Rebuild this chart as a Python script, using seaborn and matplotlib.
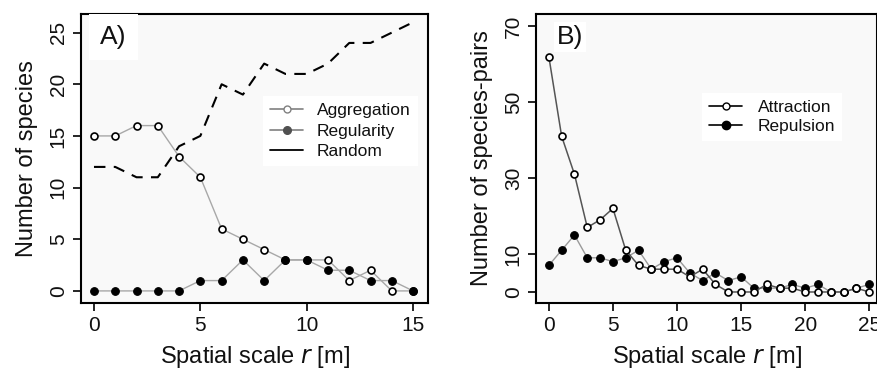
import numpy as np
import pandas as pd
import matplotlib
matplotlib.use("Agg")
import matplotlib.pyplot as plt
import seaborn as sns
from matplotlib.lines import Line2D

# Panel A: number of species per pattern type
scale_a = list(range(16))
aggregation = [15, 15, 16, 16, 13, 11, 6, 5, 4, 3, 3, 3, 1, 2, 0, 0]
regularity = [0, 0, 0, 0, 0, 1, 1, 3, 1, 3, 3, 2, 2, 1, 1, 0]
random_ = [12, 12, 11, 11, 14, 15, 20, 19, 22, 21, 21, 22, 24, 24, 25, 26]

# Panel B: number of species pairs
scale_b = list(range(26))
attraction = [62, 41, 31, 17, 19, 22, 11, 7, 6, 6, 6, 4, 6, 2, 0, 0,
              0, 2, 1, 1, 0, 0, 0, 0, 1, 0]
repulsion = [7, 11, 15, 9, 9, 8, 9, 11, 6, 8, 9, 5, 3, 5, 3, 4,
             1, 1, 1, 2, 1, 2, 0, 0, 1, 2]

yticks_a = [0, 5, 10, 15, 20, 25]
yticks_b = [0, 10, 30, 50, 70]
xticks_a = [0, 5, 10, 15]
xticks_b = [0, 5, 10, 15, 20, 25]

sns.set_theme(style="ticks")
plt.rcParams["font.family"] = ["Liberation Sans", "DejaVu Sans"]

df_a = pd.DataFrame({"r": scale_a, "Aggregation": aggregation,
                     "Regularity": regularity, "Random": random_})
df_b = pd.DataFrame({"r": scale_b, "Attraction": attraction,
                     "Repulsion": repulsion})

fig = plt.figure(figsize=(8.78, 3.70), dpi=100)
ax1 = fig.add_axes([81 / 878, 67 / 370, 347 / 878, 289 / 370])
ax2 = fig.add_axes([536 / 878, 67 / 370, 341 / 878, 289 / 370])

open_kw = dict(marker="o", markersize=5, markerfacecolor="white",
               markeredgecolor="black", markeredgewidth=1.2)
fill_kw = dict(marker="o", markersize=5.5, markerfacecolor="black",
               markeredgecolor="black", markeredgewidth=0.8)

# --- Panel A ---
sns.lineplot(data=df_a, x="r", y="Random", ax=ax1, color="black",
             linestyle=(0, (5.5, 4)), linewidth=1.5)
sns.lineplot(data=df_a, x="r", y="Aggregation", ax=ax1, color="#a8a8a8",
             linewidth=1.0, **open_kw)
sns.lineplot(data=df_a, x="r", y="Regularity", ax=ax1, color="#a8a8a8",
             linewidth=1.0, **fill_kw)

ax1.set_xlim(-0.61, 15.7)
ax1.set_ylim(-1.17, 26.8)
ax1.set_xticks(xticks_a)
ax1.set_yticks(yticks_a)
ax1.set_ylabel("Number of species", fontsize=17, labelpad=8)

hand_a = [
    Line2D([], [], color="#808080", lw=1.2, marker="o", markersize=5,
           markerfacecolor="white", markeredgecolor="#808080"),
    Line2D([], [], color="#808080", lw=1.2, marker="o", markersize=5.5,
           markerfacecolor="#505050", markeredgecolor="#505050"),
    Line2D([], [], color="black", lw=1.3),
]
leg = ax1.legend(hand_a, ["Aggregation", "Regularity", "Random"],
                 loc="upper left", bbox_to_anchor=(0.525, 0.715),
                 borderaxespad=0, fontsize=12.5, frameon=True, fancybox=False,
                 handlelength=1.9, handletextpad=0.8, labelspacing=0.3,
                 borderpad=0.4)
leg.get_frame().set_facecolor("white")
leg.get_frame().set_edgecolor("none")
leg.get_frame().set_alpha(1)
for t in leg.get_texts():
    t.set_color("#111111")

ax1.text(0.055, 0.92, "A)", transform=ax1.transAxes, fontsize=19,
         va="center", ha="left", color="#111111",
         bbox=dict(facecolor="white", edgecolor="none", pad=8))

# --- Panel B ---
sns.lineplot(data=df_b, x="r", y="Repulsion", ax=ax2, color="#9a9a9a",
             linewidth=1.0, **fill_kw)
sns.lineplot(data=df_b, x="r", y="Attraction", ax=ax2, color="#555555",
             linewidth=1.1, **open_kw)

ax2.set_xlim(-1.0, 25.6)
ax2.set_ylim(-2.9, 73.2)
ax2.set_xticks(xticks_b)
ax2.set_yticks(yticks_b)
ax2.set_ylabel("Number of species-pairs", fontsize=17, labelpad=8)

hand_b = [
    Line2D([], [], color="black", lw=1.2, marker="o", markersize=5,
           markerfacecolor="white", markeredgecolor="black"),
    Line2D([], [], color="black", lw=1.2, marker="o", markersize=6,
           markerfacecolor="black", markeredgecolor="black"),
]
leg = ax2.legend(hand_b, ["Attraction", "Repulsion"],
                 loc="upper left", bbox_to_anchor=(0.487, 0.727),
                 borderaxespad=0, fontsize=12.5, frameon=True, fancybox=False,
                 handlelength=1.9, handletextpad=0.9, labelspacing=0.2,
                 borderpad=0.4)
leg.get_frame().set_facecolor("white")
leg.get_frame().set_edgecolor("none")
leg.get_frame().set_alpha(1)
for t in leg.get_texts():
    t.set_color("#111111")

ax2.text(0.062, 0.92, "B)", transform=ax2.transAxes, fontsize=19,
         va="center", ha="left", color="#111111",
         bbox=dict(facecolor="white", edgecolor="none", pad=2))

for ax in (ax1, ax2):
    ax.set_facecolor("#f9f9f9")
    ax.set_xlabel("Spatial scale $\\it{r}$ [m]", fontsize=17, labelpad=6,
                  color="#111111")
    ax.yaxis.label.set_color("#111111")
    for sp in ax.spines.values():
        sp.set_visible(True)
        sp.set_color("black")
        sp.set_linewidth(1.5)
    ax.tick_params(axis="both", direction="out", length=6, width=1.2,
                   labelsize=15, color="black", labelcolor="#111111")
    ax.tick_params(axis="y", labelrotation=90)
    for lab in ax.get_yticklabels():
        lab.set_verticalalignment("center")
    ax.grid(False)

fig.savefig("out.png", dpi=100)
